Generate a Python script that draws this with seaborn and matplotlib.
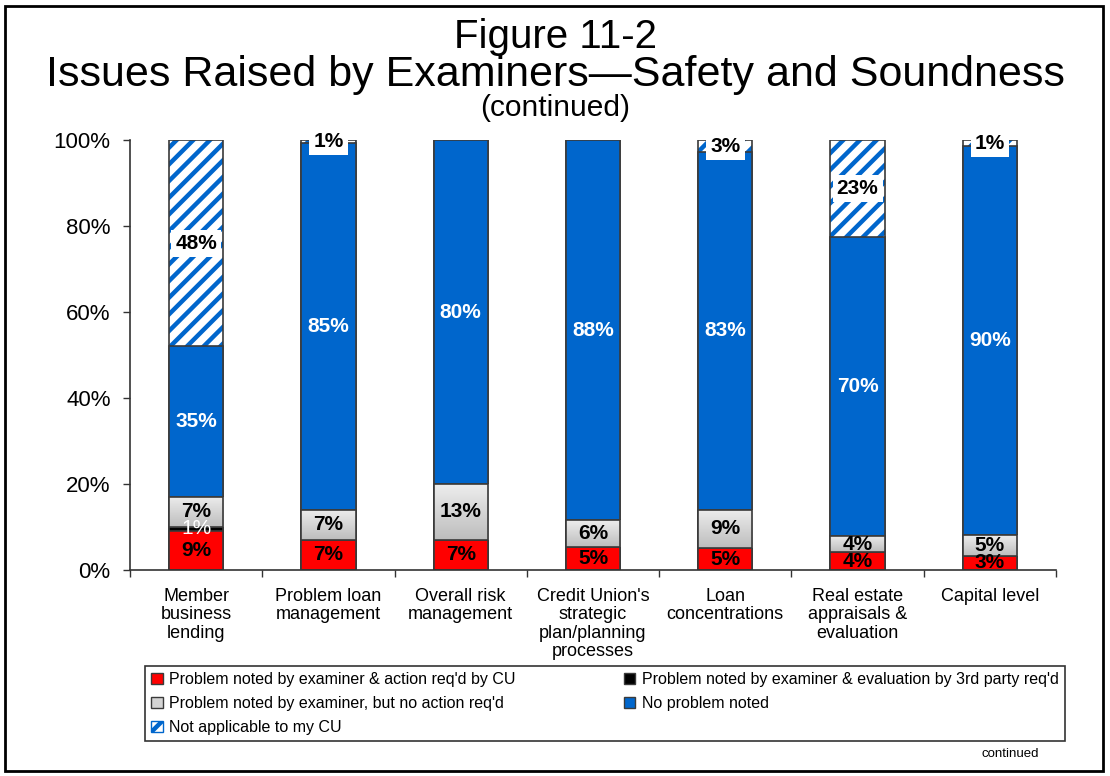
import numpy as np
import pandas as pd
import matplotlib
matplotlib.use("Agg")
import matplotlib.pyplot as plt
import matplotlib.patches as mpatches
from matplotlib.colors import LinearSegmentedColormap
import seaborn as sns

categories = ["Member\nbusiness\nlending", "Problem loan\nmanagement", "Overall risk\nmanagement",
              "Credit Union's\nstrategic\nplan/planning\nprocesses", "Loan\nconcentrations",
              "Real estate\nappraisals &\nevaluation", "Capital level"]
action_req = [9.1, 7.0, 7.0, 5.4, 5.1, 4.1, 3.3]
third_party = [0.9, 0.0, 0.0, 0.0, 0.0, 0.0, 0.0]
no_action = [7.0, 7.0, 13.0, 6.2, 8.9, 3.8, 4.8]
no_problem = [35.0, 85.4, 80.0, 88.4, 83.2, 69.5, 90.4]
not_applicable = [48.0, 0.6, 0.0, 0.0, 2.8, 22.6, 1.4]

series_names = ["Problem noted by examiner & action req'd by CU",
                "Problem noted by examiner & evaluation by 3rd party req'd",
                "Problem noted by examiner, but no action req'd",
                "No problem noted",
                "Not applicable to my CU"]
yticks = [0, 20, 40, 60, 80, 100]
ytick_labels = ["0%", "20%", "40%", "60%", "80%", "100%"]

RED = "#FF0000"
BLACK = "#000000"
GRAY = "#D4D4D4"
BLUE = "#0066CC"
EDGE = "#3A3A3A"

sns.set_style("white")
plt.rcParams["font.family"] = ["Liberation Sans", "DejaVu Sans"]
plt.rcParams["hatch.linewidth"] = 3.2
plt.rcParams["text.color"] = "black"
plt.rcParams["xtick.color"] = "black"
plt.rcParams["ytick.color"] = "black"
plt.rcParams["xtick.labelcolor"] = "black"
plt.rcParams["ytick.labelcolor"] = "black"

fig = plt.figure(figsize=(11.1, 7.76), dpi=100)
ax = fig.add_axes([130 / 1110, 1 - 570 / 776, (1056 - 130) / 1110, 430 / 776])

layers = [action_req, third_party, no_action, no_problem, not_applicable]
arr = np.array(layers)
cum = np.cumsum(arr, axis=0)
W = 0.41

# hatched layer (top), drawn first
top = cum[4]
sns.barplot(x=categories, y=top, color="white", width=W, saturation=1,
            edgecolor=BLUE, linewidth=0, hatch="//", ax=ax)
sns.barplot(x=categories, y=top, color=EDGE, fill=False, width=W,
            linewidth=1.2, ax=ax)
fills = [RED, BLACK, GRAY, BLUE]
gray_container = None
for k in [3, 2, 1, 0]:
    sns.barplot(x=categories, y=cum[k], color=fills[k], width=W, saturation=1,
                edgecolor=EDGE, linewidth=1.2, ax=ax)
    if k == 2:
        gray_container = ax.containers[-1]

# vertical gradient on the grey segments (light top, darker bottom)
gcmap = LinearSegmentedColormap.from_list("g", ["#BDBDBD", "#EDEDED"])
grad = np.linspace(0, 1, 64).reshape(-1, 1)
for i, bar in enumerate(gray_container):
    x0 = bar.get_x()
    w = bar.get_width()
    y1 = bar.get_height()
    y0 = cum[1][i]
    im = ax.imshow(grad, cmap=gcmap, origin="lower", aspect="auto",
                   extent=(x0, x0 + w, y0, y1), zorder=bar.get_zorder() + 0.01)
    im.set_clip_path(bar)
    edge = mpatches.Rectangle((x0, y0), w, y1 - y0, fill=False, edgecolor=EDGE,
                              linewidth=1.2, zorder=bar.get_zorder() + 0.02)
    ax.add_patch(edge)

# labels
LFS = 15
for i in range(len(categories)):
    bottom = 0.0
    for k, vals in enumerate(layers):
        v = vals[i]
        if v > 0:
            y = bottom + v / 2
            txt = f"{v:.0f}%"
            if k in (0, 2):
                ax.text(i, y, txt, ha="center", va="center", fontsize=LFS,
                        fontweight="bold", color="black", zorder=5)
            elif k == 1:
                ax.text(i, y, txt, ha="center", va="center", fontsize=LFS,
                        color="white", zorder=5)
            elif k == 3:
                ax.text(i, y, txt, ha="center", va="center", fontsize=LFS,
                        fontweight="bold", color="white", zorder=5)
            else:
                ax.text(i, y, txt, ha="center", va="center", fontsize=LFS,
                        fontweight="bold", color="black", zorder=5,
                        bbox=dict(facecolor="white", edgecolor="none", pad=3))
        bottom += v

ax.set_ylim(0, 100)
ax.set_xlim(-0.5, len(categories) - 0.5)
ax.set_yticks(yticks)
ax.set_yticklabels(ytick_labels, fontsize=16)
ax.set_xticks(range(len(categories)))
ax.set_xticklabels(categories, fontsize=13, linespacing=1.1)
ax.set_xticks(np.arange(-0.5, len(categories), 1.0), minor=True)
ax.tick_params(axis="x", which="major", length=0, pad=13)
ax.tick_params(axis="x", which="minor", length=5, width=1, color="#333333", direction="out", bottom=True)
ax.tick_params(axis="y", length=5, width=1, color="#333333", direction="out", left=True, pad=9)
for s in ["top", "right"]:
    ax.spines[s].set_visible(False)
for s in ["left", "bottom"]:
    ax.spines[s].set_color("#333333")
    ax.spines[s].set_linewidth(1.2)
ax.set_xlabel("")
ax.set_ylabel("")
ax.grid(False)

# titles
fig.text(0.5, 1 - 48 / 776, "Figure 11-2", ha="center", va="baseline", fontsize=29)
fig.text(0.5, 1 - 86 / 776, "Issues Raised by Examiners\u2014Safety and Soundness", ha="center", va="baseline", fontsize=31)
fig.text(0.5, 1 - 116 / 776, "(continued)", ha="center", va="baseline", fontsize=21.5)

# legend
handles = [
    mpatches.Patch(facecolor=RED, edgecolor=EDGE, label=series_names[0]),
    mpatches.Patch(facecolor=GRAY, edgecolor=EDGE, label=series_names[2]),
    mpatches.Patch(facecolor="white", edgecolor=BLUE, hatch="//", label=series_names[4]),
    mpatches.Patch(facecolor=BLACK, edgecolor=EDGE, label=series_names[1]),
    mpatches.Patch(facecolor=BLUE, edgecolor=EDGE, label=series_names[3]),
]
leg = fig.legend(handles=handles, ncol=2, loc="upper left",
                 bbox_to_anchor=(145 / 1110, 1 - 746 / 776, (1065 - 145) / 1110, 80 / 776),
                 mode="expand", fontsize=11.5, frameon=True, fancybox=False, framealpha=1,
                 edgecolor="#333333", handlelength=0.7, handleheight=0.7,
                 handletextpad=0.4, labelspacing=0.55, borderpad=0.4, borderaxespad=0)
leg.get_frame().set_linewidth(1.2)

fig.text(1010 / 1110, 1 - 754 / 776, "continued", ha="center", va="center", fontsize=9.5)

# figure border
fig.patches.append(mpatches.Rectangle((5 / 1110, 5 / 776), 1098 / 1110, 765 / 776,
                                      transform=fig.transFigure, fill=False,
                                      edgecolor="black", linewidth=2))

fig.savefig("out.png", dpi=100)
